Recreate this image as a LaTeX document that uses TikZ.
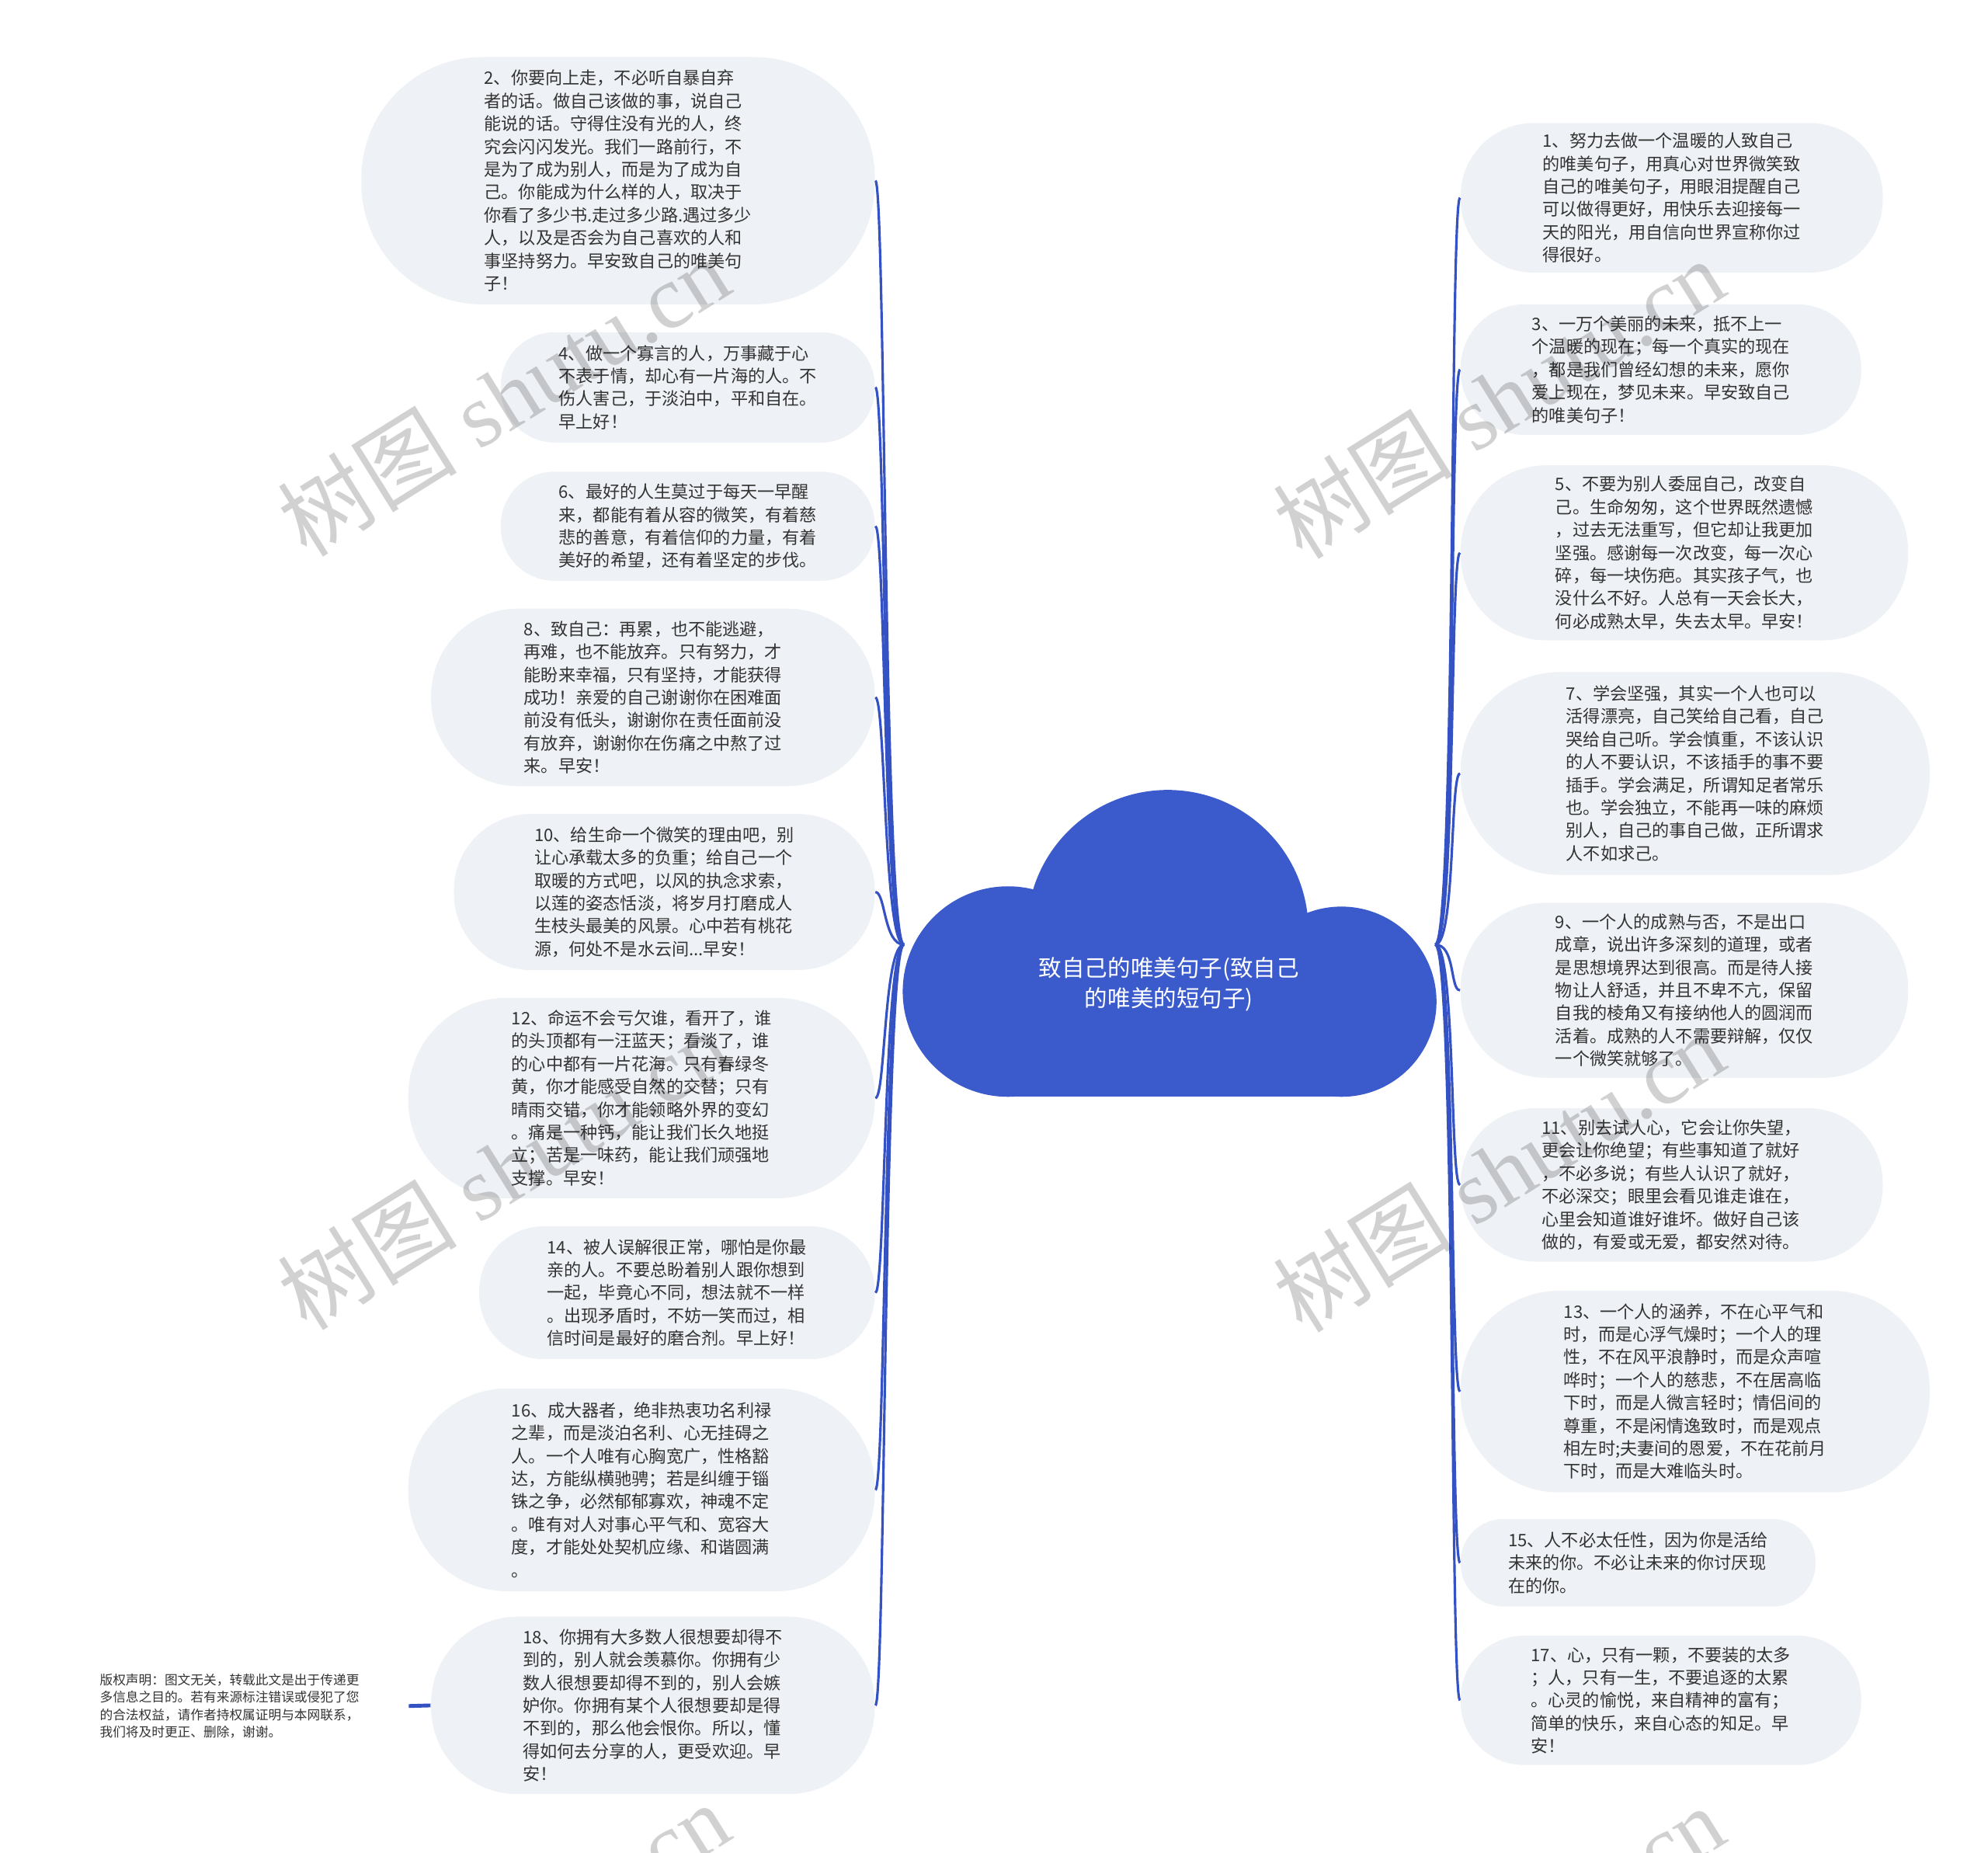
\documentclass[tikz,border=0pt]{standalone}
\usepackage{fontspec}
\setmainfont{Noto Sans CJK SC}
\newfontfamily\wmfont{Liberation Serif}
\newfontfamily\wmcjk{Noto Sans CJK SC}
\definecolor{cloudblue}{RGB}{59,91,204}
\definecolor{linkblue}{RGB}{52,82,196}
\definecolor{bubblefill}{RGB}{238,241,245}
\definecolor{textgray}{RGB}{51,51,51}
\newcommand\pxu{0.016327cm}
\tikzset{
  x=0.016327cm, y=-0.016327cm,
  bubble/.style={fill=bubblefill, draw=none, align=left, text=textgray,
    font=\fontsize{6.3pt}{8.364pt}\selectfont, inner sep=0pt},
  conn/.style={draw=linkblue, line width=0.9pt},
  wm/.style={text=black, text opacity=0.18, rotate=32,
    font=\fontsize{33pt}{38pt}\selectfont},
}
\newcommand\bubble[6]{\node[bubble, minimum width=#4*\pxu, minimum height=#5*\pxu,
  rounded corners=#5*0.49*\pxu] (#1) at (#2,#3) {#6};}
\begin{document}
\begin{tikzpicture}
\clip (0,0) rectangle (1568,1461);
\fill[white] (0,0) rectangle (1568,1461);

% left bubbles
\bubble{n2}{487.5}{142.5}{405}{195}{2、你要向上走，不必听自暴自弃\\者的话。做自己该做的事，说自己\\能说的话。守得住没有光的人，终\\究会闪闪发光。我们一路前行，不\\是为了成为别人，而是为了成为自\\己。你能成为什么样的人，取决于\\你看了多少书.走过多少路.遇过多少\\人，以及是否会为自己喜欢的人和\\事坚持努力。早安致自己的唯美句\\子！}
\bubble{n4}{542.5}{305.5}{295}{87}{4、做一个寡言的人，万事藏于心\\不表于情，却心有一片海的人。不\\伤人害己，于淡泊中，平和自在。\\早上好！}
\bubble{n6}{542.5}{415}{295}{86}{6、最好的人生莫过于每天一早醒\\来，都能有着从容的微笑，有着慈\\悲的善意，有着信仰的力量，有着\\美好的希望，还有着坚定的步伐。}
\bubble{n8}{515}{550}{350}{140}{8、致自己：再累，也不能逃避，\\再难，也不能放弃。只有努力，才\\能盼来幸福，只有坚持，才能获得\\成功！亲爱的自己谢谢你在困难面\\前没有低头，谢谢你在责任面前没\\有放弃，谢谢你在伤痛之中熬了过\\来。早安！}
\bubble{n10}{524}{703.5}{332}{123}{10、给生命一个微笑的理由吧，别\\让心承载太多的负重；给自己一个\\取暖的方式吧，以风的执念求索，\\以莲的姿态恬淡，将岁月打磨成人\\生枝头最美的风景。心中若有桃花\\源，何处不是水云间...早安！}
\bubble{n12}{506}{866}{368}{158}{12、命运不会亏欠谁，看开了，谁\\的头顶都有一汪蓝天；看淡了，谁\\的心中都有一片花海。只有春绿冬\\黄，你才能感受自然的交替；只有\\晴雨交错，你才能领略外界的变幻\\。痛是一种钙，能让我们长久地挺\\立；苦是一味药，能让我们顽强地\\支撑。早安！}
\bubble{n14}{534}{1019.5}{312}{105}{14、被人误解很正常，哪怕是你最\\亲的人。不要总盼着别人跟你想到\\一起，毕竟心不同，想法就不一样\\。出现矛盾时，不妨一笑而过，相\\信时间是最好的磨合剂。早上好！}
\bubble{n16}{506}{1175}{368}{160}{16、成大器者，绝非热衷功名利禄\\之辈，而是淡泊名利、心无挂碍之\\人。一个人唯有心胸宽广，性格豁\\达，方能纵横驰骋；若是纠缠于锱\\铢之争，必然郁郁寡欢，神魂不定\\。唯有对人对事心平气和、宽容大\\度，才能处处契机应缘、和谐圆满\\。}
\bubble{n18}{515}{1345}{350}{140}{18、你拥有大多数人很想要却得不\\到的，别人就会羡慕你。你拥有少\\数人很想要却得不到的，别人会嫉\\妒你。你拥有某个人很想要却是得\\不到的，那么他会恨你。所以，懂\\得如何去分享的人，更受欢迎。早\\安！}

% right bubbles
\bubble{n1}{1318.5}{156}{333}{118}{1、努力去做一个温暖的人致自己\\的唯美句子，用真心对世界微笑致\\自己的唯美句子，用眼泪提醒自己\\可以做得更好，用快乐去迎接每一\\天的阳光，用自信向世界宣称你过\\得很好。}
\bubble{n3}{1310}{291.5}{316}{103}{3、一万个美丽的未来，抵不上一\\个温暖的现在；每一个真实的现在\\，都是我们曾经幻想的未来，愿你\\爱上现在，梦见未来。早安致自己\\的唯美句子！}
\bubble{n5}{1328.5}{436}{353}{138}{5、不要为别人委屈自己，改变自\\己。生命匆匆，这个世界既然遗憾\\，过去无法重写，但它却让我更加\\坚强。感谢每一次改变，每一次心\\碎，每一块伤疤。其实孩子气，也\\没什么不好。人总有一天会长大，\\何必成熟太早，失去太早。早安！}
\bubble{n7}{1337}{610}{370}{160}{7、学会坚强，其实一个人也可以\\活得漂亮，自己笑给自己看，自己\\哭给自己听。学会慎重，不该认识\\的人不要认识，不该插手的事不要\\插手。学会满足，所谓知足者常乐\\也。学会独立，不能再一味的麻烦\\别人，自己的事自己做，正所谓求\\人不如求己。}
\bubble{n9}{1328.5}{781}{353}{138}{9、一个人的成熟与否，不是出口\\成章，说出许多深刻的道理，或者\\是思想境界达到很高。而是待人接\\物让人舒适，并且不卑不亢，保留\\自我的棱角又有接纳他人的圆润而\\活着。成熟的人不需要辩解，仅仅\\一个微笑就够了。}
\bubble{n11}{1318.5}{934.5}{333}{121}{11、别去试人心，它会让你失望，\\更会让你绝望；有些事知道了就好\\，不必多说；有些人认识了就好，\\不必深交；眼里会看见谁走谁在，\\心里会知道谁好谁坏。做好自己该\\做的，有爱或无爱，都安然对待。}
\bubble{n13}{1337}{1097.5}{370}{159}{13、一个人的涵养，不在心平气和\\时，而是心浮气燥时；一个人的理\\性，不在风平浪静时，而是众声喧\\哗时；一个人的慈悲，不在居高临\\下时，而是人微言轻时；情侣间的\\尊重，不是闲情逸致时，而是观点\\相左时;夫妻间的恩爱，不在花前月\\下时，而是大难临头时。}
\bubble{n15}{1292}{1232.5}{280}{69}{15、人不必太任性，因为你是活给\\未来的你。不必让未来的你讨厌现\\在的你。}
\bubble{n17}{1310}{1341}{316}{102}{17、心，只有一颗，不要装的太多\\；人，只有一生，不要追逐的太累\\。心灵的愉悦，来自精神的富有；\\简单的快乐，来自心态的知足。早\\安！}

% copyright note
\node[align=left, text=textgray, font=\fontsize{4.75pt}{6.36pt}\selectfont,
  minimum width=282*\pxu, inner sep=0pt] (copy) at (181,1345.5)
  {版权声明：图文无关，转载此文是出于传递更\\多信息之目的。若有来源标注错误或侵犯了您\\的合法权益，请作者持权属证明与本网联系，\\我们将及时更正、删除，谢谢。};
\draw[draw=linkblue, line width=1.4pt] (n18.west) -- (copy.east);

% connectors
\coordinate (cL) at (713,745);
\coordinate (cR) at (1132,745);
\foreach \n in {n2,n4,n6,n8,n10,n12,n14,n16,n18}
  \draw[conn] (cL) .. controls +(-16,0) and +(8,0) .. (\n.east);
\foreach \n in {n1,n3,n5,n7,n9,n11,n13,n15,n17}
  \draw[conn] (cR) .. controls +(16,0) and +(-8,0) .. (\n.west);

% cloud
\fill[cloudblue] (921,734) circle[radius=111];
\fill[cloudblue] (795,782) circle[radius=83];
\fill[cloudblue] (1058,790) circle[radius=75];
\fill[cloudblue] (795,740) rectangle (1058,865);
\node[text=white, align=center, font=\fontsize{8.4pt}{11.1pt}\selectfont, inner sep=0pt]
  (center) at (922,776) {致自己的唯美句子(致自己\\的唯美的短句子)};

% watermarks
\foreach \i/\px/\py in {1/397/312, 2/1182/314, 3/397/922, 4/1182/924, 5/397/1532, 6/1182/1534}
  \node[wm] (wm\i) at (\px,\py) {{\wmcjk 树图}\hspace{0.25em}{\wmfont shutu.cn}};
\end{tikzpicture}
\end{document}
